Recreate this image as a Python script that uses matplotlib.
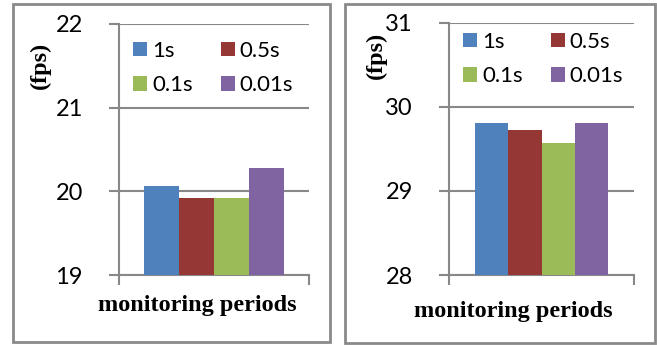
import matplotlib
matplotlib.use("Agg")
import matplotlib.pyplot as plt
from matplotlib.patches import Rectangle, Patch

# Frame rate for each monitoring period, two scenarios
periods = ["1s", "0.5s", "0.1s", "0.01s"]
fps_left = [20.06, 19.92, 19.92, 20.28]
fps_right = [29.81, 29.72, 29.57, 29.81]
ticks_left = [19, 20, 21, 22]
ticks_right = [28, 29, 30, 31]

colors = ["#4F81BD", "#953735", "#9BBB59", "#8064A2"]
grid_gray = "#888888"
W, H = 657, 345

fig = plt.figure(figsize=(W / 100, H / 100), dpi=100)
fig.patch.set_facecolor("white")

tick_font = dict(family=["Lato", "DejaVu Sans"], size=17)
leg_size = 16
label_font = dict(family=["Liberation Serif", "DejaVu Serif"], weight="bold", size=17.5)


def px(x0, y0, x1, y1):
    # pixel box (top-left origin) -> figure fraction rect
    return [x0 / W, 1 - y1 / H, (x1 - x0) / W, (y1 - y0) / H]


def panel(rect, values, ticks, frame, fps_xy, xlabel_xy, bar_w, leg_xy):
    # outer frame
    fx0, fy0, fx1, fy1 = frame
    fig.patches.append(Rectangle((fx0 / W, 1 - fy1 / H), (fx1 - fx0) / W, (fy1 - fy0) / H,
                                 transform=fig.transFigure, fill=False,
                                 edgecolor="#8a8a8a", linewidth=2))
    ax = fig.add_axes(rect)
    n = len(values)
    offsets = [(i - (n - 1) / 2) * bar_w for i in range(n)]
    for i, (v, c) in enumerate(zip(values, colors)):
        ax.bar(offsets[i], v - ticks[0], bottom=ticks[0], width=bar_w, color=c,
               zorder=3, linewidth=0)
    ax.set_xlim(-0.5, 0.5)
    ax.set_ylim(ticks[0], ticks[-1])
    ax.set_yticks(ticks)
    ax.set_yticklabels([str(t) for t in ticks], fontdict=tick_font)
    ax.yaxis.grid(True, color=grid_gray, linewidth=1.5, zorder=0)
    ax.set_axisbelow(True)
    for s in ["top", "right"]:
        ax.spines[s].set_visible(False)
    for s in ["left", "bottom"]:
        ax.spines[s].set_color(grid_gray)
        ax.spines[s].set_linewidth(1.5)
    ax.tick_params(axis="y", length=7, width=1.5, color=grid_gray, pad=19)
    ax.set_xticks([-0.5, 0.5])
    ax.set_xticklabels([])
    ax.tick_params(axis="x", length=7, width=1.5, color=grid_gray)
    # row-wise legend order: 1s 0.5s / 0.1s 0.01s
    handles = [Patch(facecolor=c, label=p) for c, p in zip(colors, periods)]
    order = [0, 2, 1, 3]
    ax.legend(handles=[handles[k] for k in order], ncol=2, loc="upper left",
              bbox_to_anchor=(leg_xy[0] / W, 1 - leg_xy[1] / H),
              bbox_transform=fig.transFigure,
              frameon=False, prop=dict(family=["Lato", "DejaVu Sans"], size=leg_size),
              handlelength=0.63, handleheight=0.63, handletextpad=0.23,
              columnspacing=1.25, labelspacing=0.65, borderaxespad=0, borderpad=0)
    fig.text(fps_xy[0] / W, 1 - fps_xy[1] / H, "(fps)", rotation=90,
             ha="center", va="center", **label_font)
    fig.text(xlabel_xy[0] / W, 1 - xlabel_xy[1] / H, "monitoring periods",
             ha="center", va="center", **label_font)
    return ax


panel(px(119, 24, 309, 275), fps_left, ticks_left, (13, 4, 330, 342),
      (40, 65), (197, 305), 0.183, (133, 41))
panel(px(449, 22.7, 634, 275), fps_right, ticks_right, (345, 4, 655, 343),
      (376, 55), (513, 311), 0.181, (463, 32))

fig.savefig("out.png", dpi=100)
